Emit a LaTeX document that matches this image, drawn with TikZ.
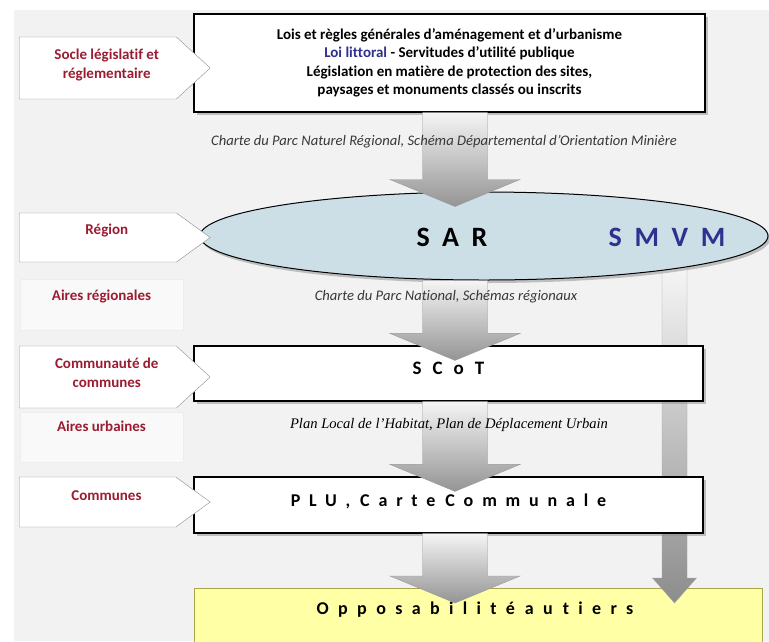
\documentclass[tikz,border=0pt]{standalone}
\usepackage{fontspec}
\setmainfont{Carlito}[Ligatures=NoCommon]
\newfontfamily\timesfont{Liberation Serif}
\usetikzlibrary{positioning, calc, shapes.geometric, shapes.symbols, shadows, backgrounds}
\definecolor{mDarkRed}{HTML}{9B1C31}
\definecolor{mNavy}{HTML}{30308F}
\definecolor{mPaper}{HTML}{F2F2F2}
\definecolor{mIce}{HTML}{CCDFE6}
\definecolor{mLemon}{HTML}{FFFFA6}
\definecolor{mOlive}{HTML}{A6A64A}
\definecolor{mEdge}{HTML}{8C8C8C}
\newcommand\spacedfont[2]{\bfseries\fontsize{#1}{#1}\selectfont
  \addfontfeatures{LetterSpace=#2}}
\newcommand\wgap{\hspace{10pt}}

\begin{document}
\begin{tikzpicture}[x=1pt, y=-1pt,
    tag/.style={signal, signal to=east, draw=mEdge, fill=white,
      minimum width=191pt, inner sep=0pt, anchor=west},
    tagtext/.style={text=mDarkRed, font=\bfseries\fontsize{15}{18.5}\selectfont,
      align=center, xshift=9pt},
    area/.style={draw=black!7, fill=white!55!mPaper, text=mDarkRed,
      font=\bfseries\fontsize{15}{18.5}\selectfont, minimum width=163pt,
      inner sep=0pt, text depth=18pt},
    plan/.style={draw=black, line width=1.2pt, fill=white,
      drop shadow={shadow xshift=3pt, shadow yshift=-3pt, fill=black!45}},
    spaced/.style 2 args={font={\spacedfont{#1}{#2}}},
    note/.style={font=\itshape\fontsize{14.6}{16}\selectfont, text=black!78},
    bigarrow/.style={draw=black!40, top color=black!4, bottom color=black!42},
  ]
  \useasboundingbox (0,0) rectangle (769,641);
  \coordinate (axis) at (455,0);
  \coordinate (rail) at (674.5,0);

  % level boxes
  \node[plan, minimum width=511pt, minimum height=98pt, align=center,
    font=\bfseries\fontsize{15}{18.5}\selectfont] (lois) at (449.5,63)
    {Lois et règles générales d’aménagement et d’urbanisme\\
     \textcolor{mNavy}{Loi littoral} - Servitudes d’utilité publique\\
     Législation en matière de protection des sites,\\
     paysages et monuments classés ou inscrits};
  \node[ellipse, draw=black, line width=1pt, fill=mIce, minimum width=568pt,
    minimum height=88pt, inner sep=0pt,
    drop shadow={shadow xshift=2pt, shadow yshift=-3pt, fill=black!45}] (sar) at (484,236) {};
  \node[spaced={28}{45}] (sartxt) at (452,237) {SAR};
  \node[spaced={28}{45}, text=mNavy] (smvm) at (667,237) {SMVM};
  \node[plan, minimum width=509pt, minimum height=55pt, text depth=10pt,
    spaced={19}{58}] (scot) at (448.5,373.5) {SCoT};
  \node[plan, minimum width=509pt, minimum height=56pt, text depth=10pt,
    spaced={18}{49}] (plu) at (448.5,505) {PLU,\wgap Carte\wgap Communale};

  % left labels
  \node[tag, minimum height=62pt, signal pointer angle=85,
    label={[tagtext, yshift=3pt]center:{Socle législatif et\\réglementaire}}] (socle) at (19,68) {};
  \node[tag, minimum height=49pt, signal pointer angle=72,
    label={[tagtext, yshift=7pt]center:Région}] (region) at (19,237.5) {};
  \node[area, minimum height=51pt] (aireg) at (101.5,304.5) {Aires régionales};
  \node[tag, minimum height=62pt, signal pointer angle=85,
    label={[tagtext, yshift=4pt]center:{Communauté de\\communes}}] (comcom) at (19,377) {};
  \node[area, minimum height=50pt, text depth=21pt] (aiurb) at (101.5,437) {Aires urbaines};
  \node[tag, minimum height=50pt, signal pointer angle=72,
    label={[tagtext, yshift=6pt]center:Communes}] (communes) at (19,502) {};

  \begin{scope}[on background layer]
    \fill[white] (0,0) rectangle (769,641);
    \fill[mPaper] (14,10) rectangle (769,641);
    \node[draw=mOlive, line width=1pt, fill=mLemon, minimum width=568pt,
      minimum height=100pt, anchor=north] (opp) at (478,588) {};
    % SMVM runs behind the boxes
    \path[draw=black!35, top color=white, bottom color=black!45]
      ($(sar.center -| rail)+(-12.5,0)$) -- ($(sar.center -| rail)+(12.5,0)$)
      -- ($(opp.north -| rail)+(12.5,-10)$) -- ($(opp.north -| rail)+(22,-10)$)
      -- ($(opp.north -| rail)+(0,15)$) -- ($(opp.north -| rail)+(-22,-10)$)
      -- ($(opp.north -| rail)+(-12.5,-10)$) -- cycle;
  \end{scope}
  \node[spaced={18}{52}] (opptxt) at (475,610) {Opposabilité\wgap au\wgap tiers};

  \foreach \a/\b in {lois/sar, sar/scot, scot/plu, plu/opp}
    \path[bigarrow] ($(\a.south -| axis)+(-32.5,0)$) -- ($(\a.south -| axis)+(32.5,0)$)
      -- ($(\b.north -| axis)+(32.5,-12)$) -- ($(\b.north -| axis)+(65,-12)$)
      -- ($(\b.north -| axis)+(0,15)$) -- ($(\b.north -| axis)+(-65,-12)$)
      -- ($(\b.north -| axis)+(-32.5,-12)$) -- cycle;

  % texts over the arrows
  \node[note] (nprn) at (444,142)
    {Charte du Parc Naturel Régional, Schéma Départemental d’Orientation Minière};
  \node[note] (npn) at (446,297) {Charte du Parc National, Schémas régionaux};
  \node[note, font=\timesfont\itshape\fontsize{14.6}{16}\selectfont, text=black] (nplh) at (449,425)
    {Plan Local de l’Habitat, Plan de Déplacement Urbain};
\end{tikzpicture}
\end{document}
